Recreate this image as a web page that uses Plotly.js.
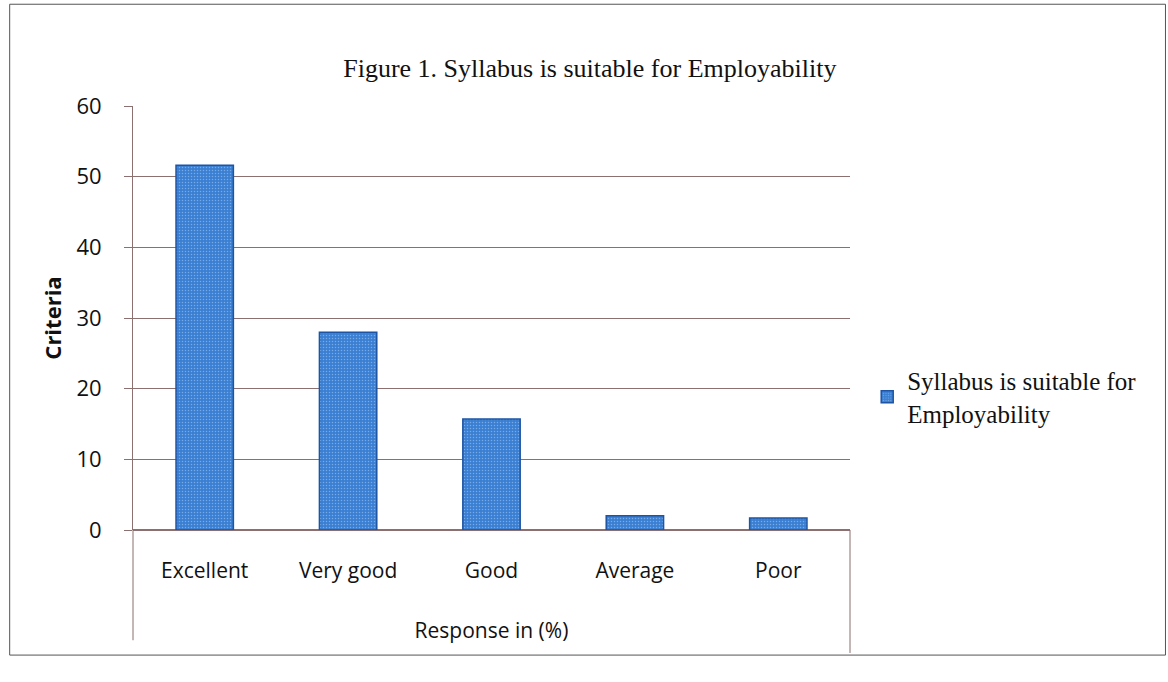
<!DOCTYPE html>
<html>
<head>
<meta charset="utf-8">
<script src="https://cdn.plot.ly/plotly-3.0.1.min.js"></script>
<style>html,body{margin:0;padding:0;background:#fff;}#chart{width:1168px;height:682px;}</style>
</head>
<body>
<div id="chart"></div>
<script>
const categories = ["Excellent", "Very good", "Good", "Average", "Poor"];
const values = [51.6, 28, 15.7, 2, 1.7];
const seriesName = "Syllabus is suitable for<br>Employability";
const yTicks = [0, 10, 20, 30, 40, 50, 60];

const gridColor = "#8c6f6f";
const trace = {
  type: "bar",
  x: categories,
  y: values,
  name: seriesName,
  marker: {
    color: "#3a7fd2",
    line: {color: "#1d54a3", width: 1.5},
    pattern: {shape: ".", bgcolor: "#3a7fd2", fgcolor: "#78aae6", size: 3, solidity: 0.2}
  },
  showlegend: true
};

const sans = "Open Sans, Noto Sans, sans-serif";
const serif = "Liberation Serif, Times New Roman, serif";

const layout = {
  width: 1168, height: 682,
  margin: {l: 133, r: 318, t: 106, b: 152},
  paper_bgcolor: "#ffffff",
  plot_bgcolor: "#ffffff",
  bargap: 0.6,
  title: {
    text: "Figure 1. Syllabus is suitable for Employability",
    font: {family: serif, size: 26, color: "#111"},
    x: 0.505, xanchor: "center", y: 0.9, yanchor: "middle"
  },
  xaxis: {
    type: "category",
    showgrid: false,
    showline: false,
    ticks: "",
    tickfont: {family: sans, size: 21, color: "#111"},
    ticklabelstandoff: 26,
    title: {text: "Response in (%)", font: {family: sans, size: 21, color: "#111"}, standoff: 40}
  },
  yaxis: {
    range: [0, 60],
    tickvals: yTicks,
    ticktext: yTicks.map(String),
    showgrid: true,
    gridcolor: gridColor,
    gridwidth: 1,
    zeroline: true,
    zerolinecolor: gridColor,
    zerolinewidth: 1.2,
    showline: true,
    linecolor: gridColor,
    linewidth: 1,
    ticks: "outside",
    ticklen: 8,
    tickcolor: gridColor,
    tickfont: {family: sans, size: 22, color: "#111"},
    ticklabelstandoff: 18,
    title: {text: "<b>Criteria</b>", font: {family: sans, size: 22, color: "#111"}, standoff: 8}
  },
  legend: {
    x: 1.024, xanchor: "left",
    y: 0.314, yanchor: "middle",
    font: {family: serif, size: 25, color: "#111"},
    itemwidth: 30,
    bgcolor: "rgba(0,0,0,0)"
  },
  shapes: [
    {type: "rect", xref: "paper", yref: "paper", x0: -0.172, x1: 1.44, y0: -0.295, y1: 1.24,
     line: {color: "#555", width: 1}},
    {type: "line", xref: "paper", yref: "paper", x0: 0, x1: 0, y0: 0, y1: -0.26,
     line: {color: gridColor, width: 1}},
    {type: "line", xref: "paper", yref: "paper", x0: 1, x1: 1, y0: 0, y1: -0.29,
     line: {color: gridColor, width: 1}}
  ]
};

Plotly.newPlot("chart", [trace], layout, {displayModeBar: false, staticPlot: true});
</script>
</body>
</html>
